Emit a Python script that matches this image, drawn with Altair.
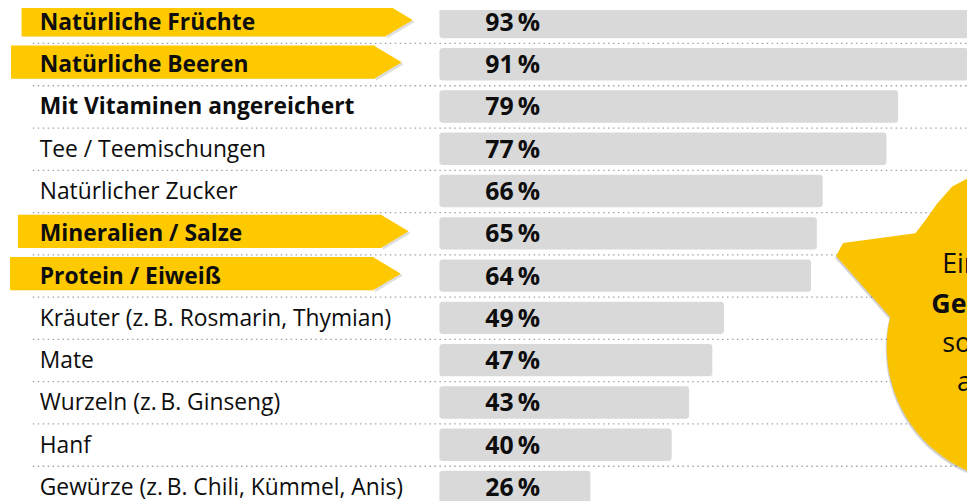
import math
import altair as alt
import pandas as pd

# ---------------- data ----------------
categories = [
    "Natürliche Früchte",
    "Natürliche Beeren",
    "Mit Vitaminen angereichert",
    "Tee / Teemischungen",
    "Natürlicher Zucker",
    "Mineralien / Salze",
    "Protein / Eiweiß",
    "Kräuter (z.\u2009B. Rosmarin, Thymian)",
    "Mate",
    "Wurzeln (z.\u2009B. Ginseng)",
    "Hanf",
    "Gewürze (z.\u2009B. Chili, Kümmel, Anis)",
]
values = [93, 91, 79, 77, 66, 65, 64, 49, 47, 43, 40, 26]
bold_labels = [
    "Natürliche Früchte",
    "Natürliche Beeren",
    "Mit Vitaminen angereichert",
    "Mineralien / Salze",
    "Protein / Eiweiß",
]
highlighted = ["Natürliche Früchte", "Natürliche Beeren", "Mineralien / Salze", "Protein / Eiweiß"]
callout_lines = ["Ein", "Geschmack", "sorte", "auch"]
callout_bold = [False, True, False, False]

# ---------------- layout (scale units) ----------------
banner_start = [-71.96, -73.78, -72.59, -73.95]
banner_end = [-9.22, -11.10, -9.91, -11.27]
callout_x = [86.59, 84.71, 86.59, 89.15]
callout_row = [5.935, 6.873, 7.811, 8.726]

YELLOW = "#FFC900"
BURST = "#FAC300"
FONT = "Open Sans"
INK = "#0d0d0d"

xs = alt.Scale(domain=[-74.30, 90.86], nice=False, zero=False)
ys = alt.Scale(domain=[-0.2815, 11.330], nice=False, zero=False, reverse=True)

df = pd.DataFrame({"category": categories, "value": values, "row": list(range(len(categories)))})
df["bold"] = df["category"].isin(bold_labels)
df["label"] = df["value"].astype(str) + "\u2009%"

rows_of = {c: i for i, c in enumerate(categories)}
bdf = pd.DataFrame({
    "category": highlighted,
    "row": [rows_of[c] for c in highlighted],
    "bx0": banner_start,
    "bx1": banner_end,
})

cdf = pd.DataFrame({"line": callout_lines, "bold": callout_bold, "cx": callout_x, "cy": callout_row})
one = pd.DataFrame({"k": [0]})

def XQ(f):
    return alt.X(f, type="quantitative", scale=xs, axis=None)

def YQ(f):
    return alt.Y(f, type="quantitative", scale=ys, axis=None)

# separators
seps = alt.Chart(df).transform_calculate(
    sep="datum.row + 0.509", sx0="-70.03", sx1="100"
).mark_rule(color="#a3a3a3", strokeDash=[1.5, 3.5], strokeWidth=1.3).encode(
    x=XQ("sx0"), x2="sx1:Q", y=YQ("sep")
)

# bars
bars = alt.Chart(df).transform_calculate(
    b0="datum.row - 0.383", b1="datum.row + 0.383", zero="0"
).mark_bar(color="#d9d9d9", cornerRadius=3, clip=True).encode(
    x=XQ("zero"), x2="value:Q", y=YQ("b0"), y2="b1:Q"
)

vals = alt.Chart(df).transform_calculate(vx="7.9").mark_text(
    align="left", baseline="alphabetic", dy=9, fontSize=25, fontWeight="bold",
    font=FONT, color=INK
).encode(x=XQ("vx"), y=YQ("row"), text="label:N")

# banners
TIP = "M-1,-16.75L27,0L-1,16.75Z"
bcalc = dict(y0="datum.row - 0.047 - 0.393", y1="datum.row - 0.047 + 0.393", yc="datum.row - 0.047")

def banner_layers(color, opacity, dx, dy):
    body = alt.Chart(bdf).transform_calculate(**bcalc).mark_bar(
        color=color, opacity=opacity, cornerRadius=0, xOffset=dx, yOffset=dy
    ).encode(x=XQ("bx0"), x2="bx1:Q", y=YQ("y0"), y2="y1:Q")
    tip = alt.Chart(bdf).transform_calculate(**bcalc).mark_point(
        shape=TIP, size=4, filled=True, opacity=opacity, color=color,
        strokeWidth=0, xOffset=dx, yOffset=dy
    ).encode(x=XQ("bx1"), y=YQ("yc"))
    return [body, tip]

shadow = banner_layers("#000000", 0.13, 2, 2)
banners = banner_layers(YELLOW, 1, 0, 0)

lab_common = dict(align="left", baseline="alphabetic", dy=8, fontSize=23, font=FONT, color=INK)
labels_b = alt.Chart(df).transform_filter("datum.bold").transform_calculate(lx="-68.83").mark_text(
    fontWeight="bold", **lab_common
).encode(x=XQ("lx"), y=YQ("row"), text="category:N")
labels_n = alt.Chart(df).transform_filter("!datum.bold").transform_calculate(lx="-68.83").mark_text(
    fontWeight="normal", **lab_common
).encode(x=XQ("lx"), y=YQ("row"), text="category:N")

# starburst callout (shape relative to its centre at page (1030, 348), in px)
pts = [(-107, -115), (-180, -105), (-187, -92), (-133, -31)]
start = math.degrees(math.atan2(-31, -133))
a = 360 + start
r = 136
while a > -40:
    pts.append((r * math.cos(math.radians(a)), r * math.sin(math.radians(a))))
    a -= 4
pts += [(90, -178), (-30, -180), (-55, -170), (-70, -162), (-85, -145), (-97, -128)]
BURST_PATH = "M" + "L".join(f"{x:.1f},{y:.1f}" for x, y in pts) + "Z"

burst_shadow = alt.Chart(one).transform_calculate(bx="100.26", by="7.694").mark_point(
    shape=BURST_PATH, size=4, filled=True, opacity=0.18, color="#000000", strokeWidth=0,
    xOffset=-1, yOffset=2
).encode(x=XQ("bx"), y=YQ("by"))
burst = alt.Chart(one).transform_calculate(bx="100.26", by="7.694").mark_point(
    shape=BURST_PATH, size=4, filled=True, opacity=1, color=BURST, strokeWidth=0
).encode(x=XQ("bx"), y=YQ("by"))

ct_common = dict(align="left", baseline="alphabetic", fontSize=27, font=FONT, color=INK)
callout_b = alt.Chart(cdf).transform_filter("datum.bold").mark_text(fontWeight="bold", **ct_common).encode(
    x=XQ("cx"), y=YQ("cy"), text="line:N"
)
callout_n = alt.Chart(cdf).transform_filter("!datum.bold").mark_text(fontWeight="normal", **ct_common).encode(
    x=XQ("cx"), y=YQ("cy"), text="line:N"
)

chart = alt.layer(
    seps, bars, vals, *shadow, *banners, labels_b, labels_n, burst_shadow, burst, callout_b, callout_n
).properties(
    width=967, height=495, padding=0, autosize="none", background="white"
).configure_view(stroke=None)

chart.save("out.html", embed_options={"renderer": "svg", "actions": False})
